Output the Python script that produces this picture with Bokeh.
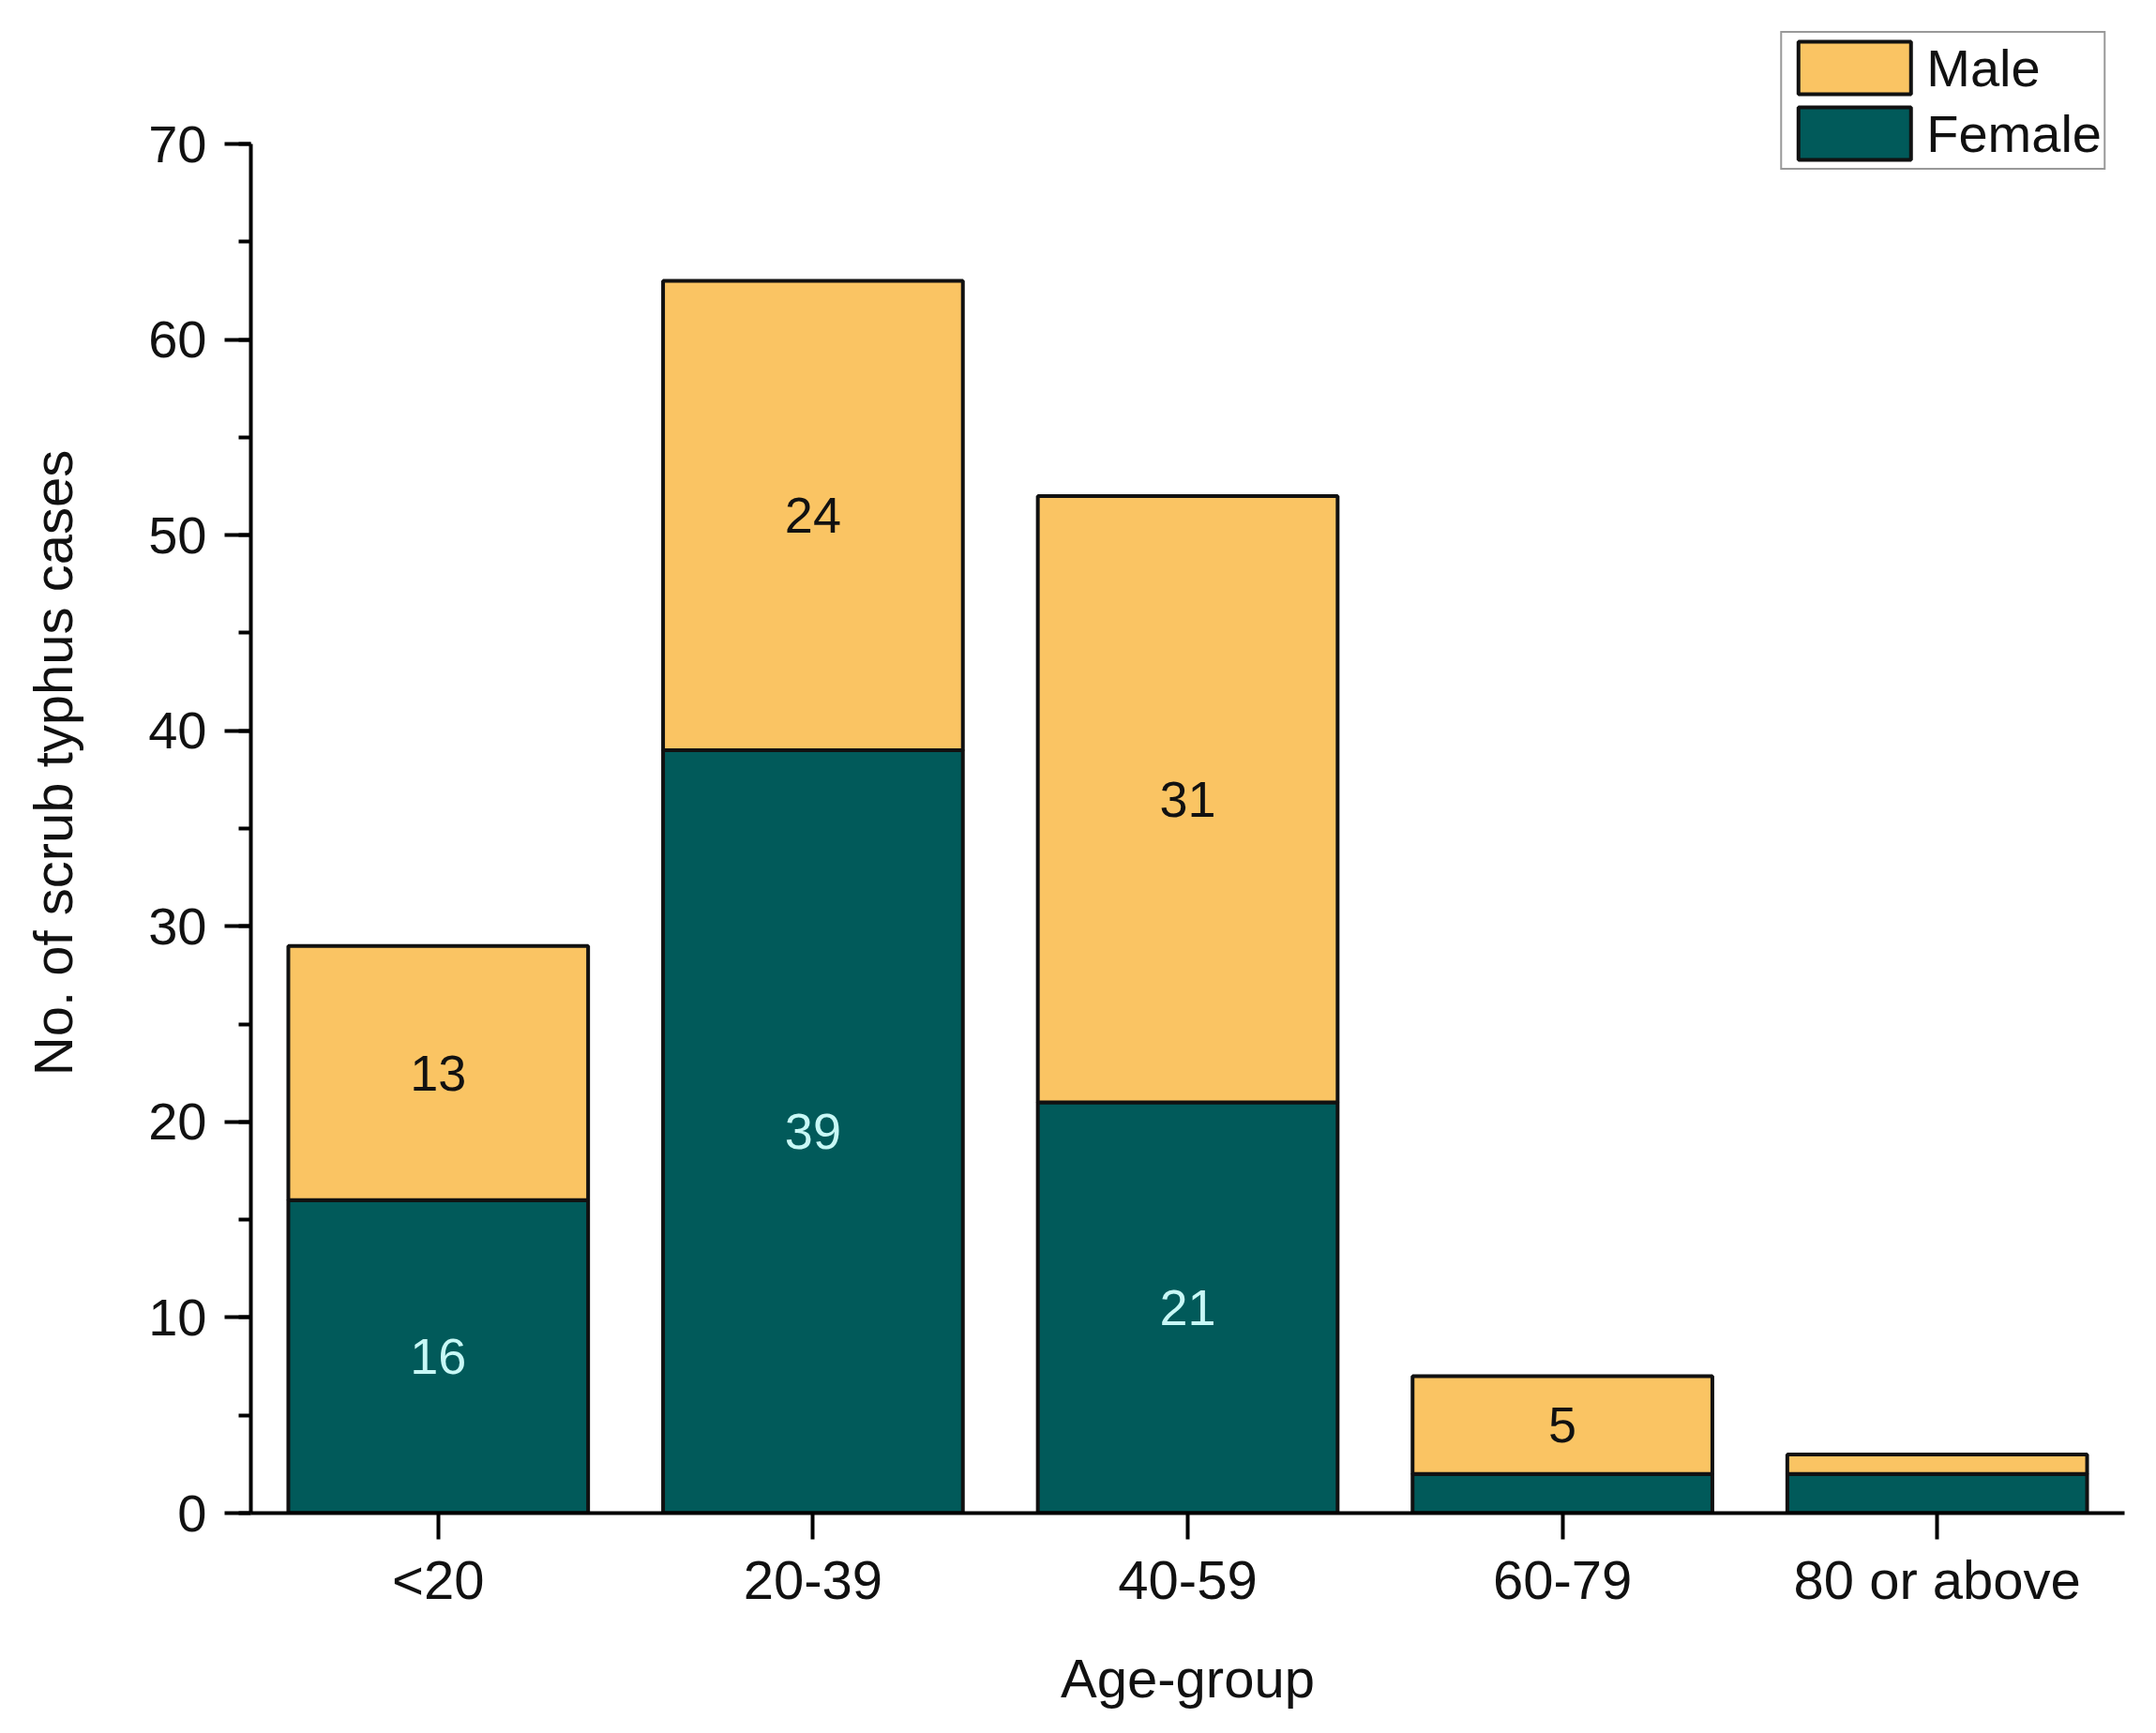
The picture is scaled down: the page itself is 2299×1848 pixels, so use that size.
from bokeh.plotting import figure
from bokeh.models import (ColumnDataSource, FactorRange, Range1d, SingleIntervalTicker,
                          Legend, LegendItem)
from bokeh.core.properties import value
from bokeh.embed import file_html
from bokeh.resources import INLINE

# ---- data ----
age_groups = ["<20", "20-39", "40-59", "60-79", "80 or above"]
female = [16, 39, 21, 2, 2]
male = [13, 24, 31, 5, 1]
y_max = 70
series_names = ["Male", "Female"]

MALE_COLOR = "#FAC463"
FEMALE_COLOR = "#015A5A"
FONT = "Liberation Sans"

W, H = 2283, 1830
BORDER_L, BORDER_R, BORDER_T, BORDER_B = 267, 18, 13, 217
frame_h = H - BORDER_T - BORDER_B
axis_px = 1460  # pixel span of 0..70
y_end = y_max * frame_h / axis_px

src = ColumnDataSource(dict(age=age_groups, female=female, male=male))

p = figure(x_range=FactorRange(*age_groups, range_padding=0, factor_padding=0),
           y_range=Range1d(0, y_end),
           width=W, height=H, output_backend="svg", toolbar_location=None,
           min_border_left=BORDER_L, min_border_right=BORDER_R,
           min_border_top=BORDER_T, min_border_bottom=BORDER_B)

rends = p.vbar_stack(["female", "male"], x="age", width=0.8, source=src,
                     fill_color=[FEMALE_COLOR, MALE_COLOR],
                     line_color="#111111", line_width=4)
r_female, r_male = rends

# value labels at segment centres
lab_f = dict(x=[], y=[], t=[])
lab_m = dict(x=[], y=[], t=[])
for a, f, m in zip(age_groups, female, male):
    if f >= 3:
        lab_f["x"].append(a); lab_f["y"].append(f / 2); lab_f["t"].append(str(f))
    if m >= 3:
        lab_m["x"].append(a); lab_m["y"].append(f + m / 2); lab_m["t"].append(str(m))

p.text(x="x", y="y", text="t", source=ColumnDataSource(lab_f),
       text_align="center", text_baseline="middle",
       text_font=value(FONT), text_font_size="54px", text_color="#C8F8F6")
p.text(x="x", y="y", text="t", source=ColumnDataSource(lab_m),
       text_align="center", text_baseline="middle",
       text_font=value(FONT), text_font_size="54px", text_color="#111111")

# axes
p.grid.visible = False
p.outline_line_color = None
p.background_fill_color = "white"
p.border_fill_color = "white"

yax = p.yaxis[0]
yax.ticker = SingleIntervalTicker(interval=10, num_minor_ticks=2)
yax.bounds = (0, y_max)
yax.axis_label = "No. of scrub typhus cases"
xax = p.xaxis[0]
xax.axis_label = "Age-group"

for ax in (xax, yax):
    ax.axis_line_color = "black"
    ax.axis_line_width = 4
    ax.major_tick_line_color = "black"
    ax.major_tick_line_width = 4
    ax.major_tick_out = 28
    ax.major_tick_in = 0
    ax.minor_tick_line_color = "black"
    ax.minor_tick_line_width = 4
    ax.minor_tick_out = 13
    ax.minor_tick_in = 0
    ax.major_label_text_font = FONT
    ax.major_label_text_font_size = "56px"
    ax.major_label_text_color = "#111111"
    ax.axis_label_text_font = FONT
    ax.axis_label_text_font_size = "58px"
    ax.axis_label_text_font_style = "normal"
    ax.axis_label_text_color = "#111111"

xax.major_label_text_font_size = "58px"
xax.major_label_standoff = 10
xax.axis_label_standoff = 37
yax.major_label_standoff = 19
yax.axis_label_standoff = 66

legend = Legend(items=[LegendItem(label=series_names[0], renderers=[r_male]),
                       LegendItem(label=series_names[1], renderers=[r_female])],
                location="top_right", margin=20, padding=2, spacing=0,
                glyph_width=150, glyph_height=70, label_standoff=2,
                label_text_font=FONT, label_text_font_size="56px",
                label_text_color="#111111",
                border_line_color="#333333", border_line_width=2.5,
                background_fill_alpha=1.0)
p.add_layout(legend)

open("out.html", "w").write(file_html(p, INLINE))
